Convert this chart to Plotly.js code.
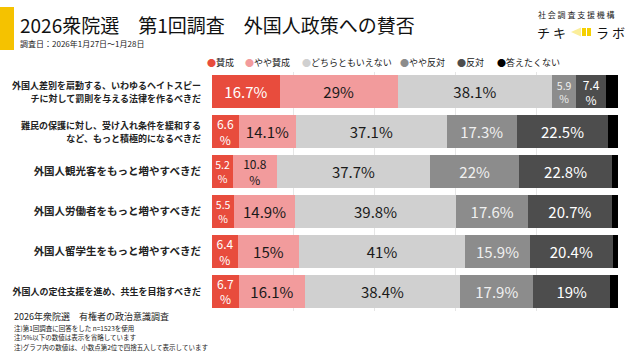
<!DOCTYPE html>
<html><head><meta charset="utf-8">
<script src="https://cdn.plot.ly/plotly-3.0.1.min.js"></script>
<style>body{margin:0;background:#fff}#c{width:640px;height:360px}</style>
</head><body><div id="c"></div>
<script>
const categories = [
  '外国人差別を扇動する、いわゆるヘイトスピー|チに対して罰則を与える法律を作るべきだ',
  '難民の保護に対し、受け入れ条件を緩和する|など、もっと積極的になるべきだ',
  '外国人観光客をもっと増やすべきだ',
  '外国人労働者をもっと増やすべきだ',
  '外国人留学生をもっと増やすべきだ',
  '外国人の定住支援を進め、共生を目指すべきだ'
];
const seriesNames = ['賛成','やや賛成','どちらともいえない','やや反対','反対','答えたくない'];
const agree      = [16.7, 6.6, 5.2, 5.5, 6.4, 6.7];
const someAgree  = [29, 14.1, 10.8, 14.9, 15, 16.1];
const neutral    = [38.1, 37.1, 37.7, 39.8, 41, 38.4];
const someOppose = [5.9, 17.3, 22, 17.6, 15.9, 17.9];
const oppose     = [7.4, 22.5, 22.8, 20.7, 20.4, 19];
const noAnswer   = [2.9, 2.4, 1.5, 1.5, 1.3, 1.9];

const seriesValues = [agree, someAgree, neutral, someOppose, oppose, noAnswer];
const colors = ['#E84C3D','#F29B9C','#D0D0D0','#8C8C8C','#4D4D4D','#000000'];
const textColors = ['#ffffff','#1a1a1a','#1a1a1a','#f0f0f0','#ffffff','#ffffff'];
const FONT = '"Noto Sans CJK JP", "Noto Sans", sans-serif';

function labelText(v){
  if (v <= 5) return '';
  if (v < 12) return v + '<br>%';
  return v + '%';
}
function labelSize(v){ return v < 6 ? 10.5 : (v < 12 ? 12 : 15); }

const traces = seriesValues.map((vals, i) => ({
  type: 'bar', orientation: 'h',
  x: vals, y: categories,
  name: seriesNames[i],
  marker: {color: colors[i], line: {width: 0}},
  text: vals.map(labelText),
  textposition: 'inside',
  insidetextanchor: 'middle',
  constraintext: 'none',
  textangle: 0,
  textfont: {family: FONT, color: textColors[i], size: vals.map(labelSize)},
  hoverinfo: 'skip',
  showlegend: false
}));

const ticktext = categories.map(c => {
  const lines = c.split('|');
  const maxLen = Math.max(...lines.map(l => l.length));
  const fs = maxLen > 17 ? 9 : 10.5;
  return '<span style="font-size:' + fs + 'px">' + lines.join('<br>') + '</span>';
});

const px = v => (v-212)/406;
const py = v => 1 + (72-v)/239;

const annotations = [];
function note(x, y, text, size, color){
  annotations.push({xref:'paper', yref:'paper', xanchor:'left', yanchor:'middle',
    x: px(x), y: py(y), showarrow:false, borderpad:0, text:text,
    font:{family:FONT, size:size, color:color || '#222'}});
}
note(19, 25, '2026衆院選　第1回調査　外国人政策への賛否', 19, '#111');
note(19, 43.5, '調査日：2026年1月27日～1月28日', 8, '#222');
note(537, 15, '社 会 調 査 支 援 機 構', 8, '#222');
note(536, 32, 'チ キ', 13, '#111');
note(595, 32, 'ラ ボ', 13, '#111');
const legendX = [206, 244, 301, 399, 456, 496];
seriesNames.forEach((n, i) => {
  note(legendX[i], 62, '<span style="color:' + colors[i] + '">●</span>' + n, 9, '#222');
});
note(13, 316.5, '2026年衆院選　有権者の政治意識調査', 9, '#222');
const notes = ['注)第1回調査に回答をした n=1523を使用','注)5%以下の数値は表示を省略しています','注)グラフ内の数値は、小数点第2位で四捨五入して表示しています'];
notes.forEach((t, i) => note(13, 327.5 + i*9.5, t, 6.5, '#222'));

const shapes = [
  {type:'rect', xref:'paper', yref:'paper', x0:px(0), x1:px(14), y0:py(50), y1:py(7), fillcolor:'#F5C200', line:{width:0}},
  {type:'path', xref:'paper', yref:'paper', path:'M'+px(571)+','+py(32)+' L'+px(581)+','+py(27.5)+' L'+px(581)+','+py(36.5)+' Z', fillcolor:'#FBEE9A', line:{width:0}},
  {type:'rect', xref:'paper', yref:'paper', x0:px(582), x1:px(586), y0:py(36), y1:py(28), fillcolor:'#F5D000', line:{width:0}},
  {type:'rect', xref:'paper', yref:'paper', x0:px(587), x1:px(591), y0:py(36), y1:py(28), fillcolor:'#F5D000', line:{width:0}}
];

const layout = {
  width: 640, height: 360,
  margin: {l: 212, r: 22, t: 72, b: 49},
  paper_bgcolor: '#fff', plot_bgcolor: '#fff',
  barmode: 'stack', bargap: 0.17,
  showlegend: false,
  font: {family: FONT},
  xaxis: {range: [0, 100], dtick: 20, showticklabels: false, showgrid: true,
    gridcolor: '#E6E6E6', gridwidth: 1, zeroline: false, showline: false, fixedrange: true},
  yaxis: {autorange: 'reversed', type: 'category', tickvals: categories, ticktext: ticktext,
    ticks: 'outside', ticklen: 8, tickcolor: 'rgba(0,0,0,0)', showline: false, showgrid: false,
    tickfont: {family: FONT, size: 10.5, color: '#222', weight: 'bold'}},
  annotations: annotations,
  shapes: shapes
};
Plotly.newPlot('c', traces, layout, {displayModeBar: false, staticPlot: true});
</script>
</body></html>
